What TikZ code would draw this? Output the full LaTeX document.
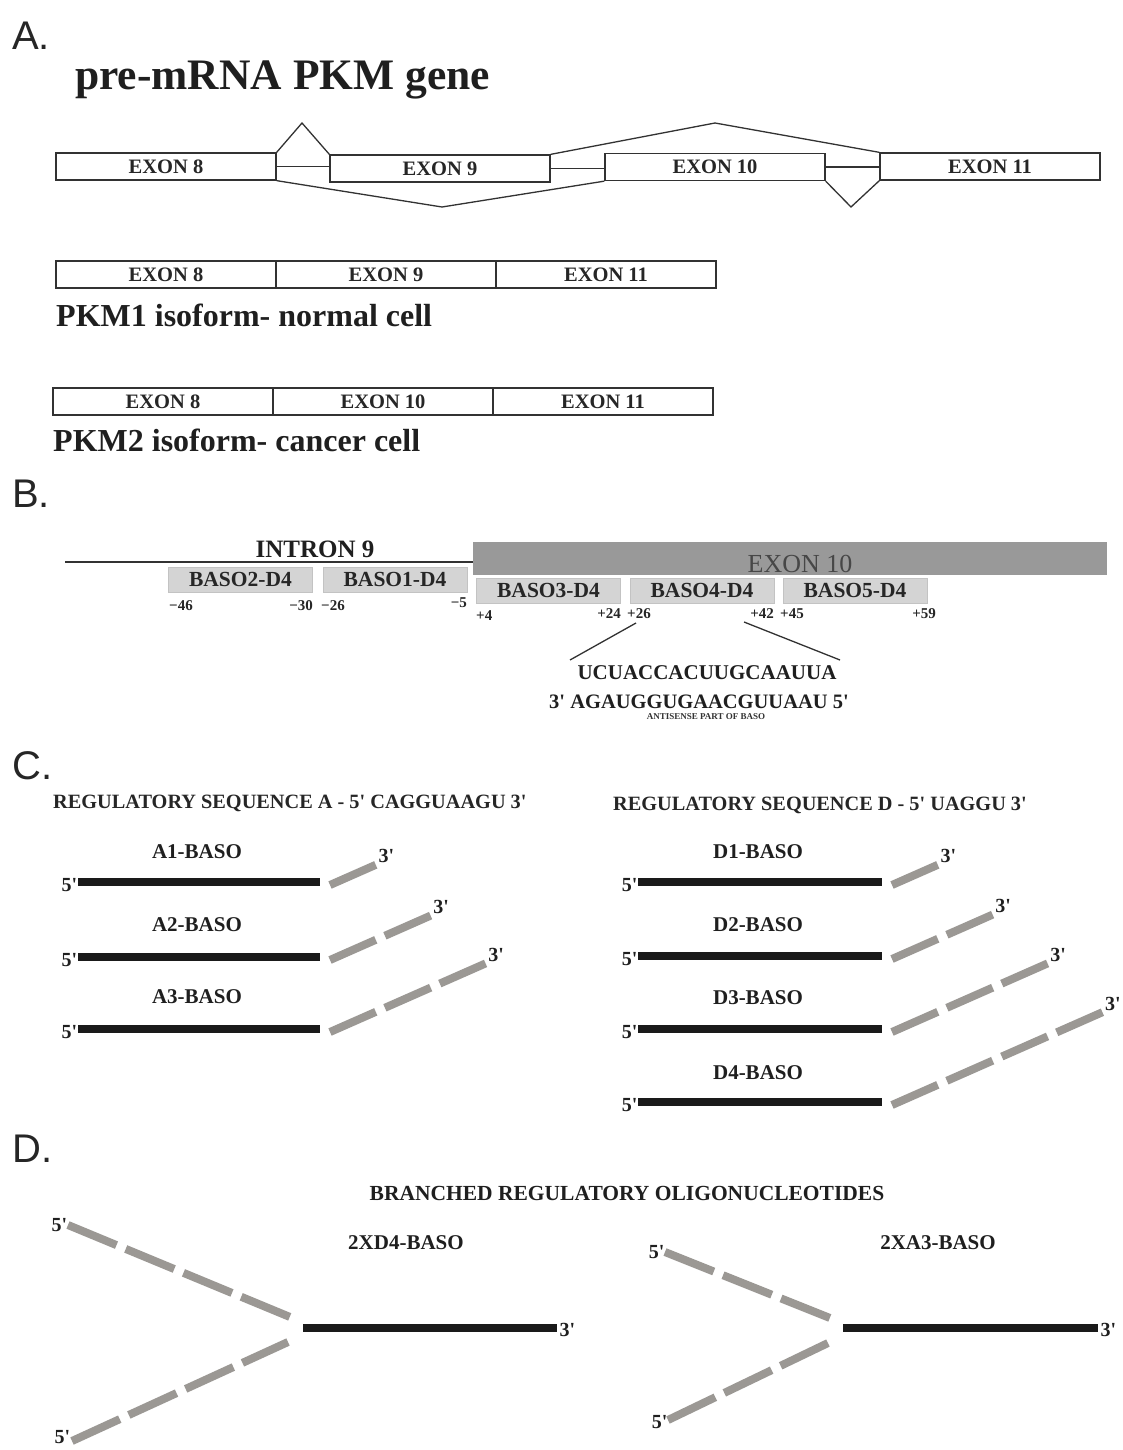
\documentclass[tikz,border=0pt]{standalone}
\usepackage{fontspec}
\setmainfont{Liberation Serif}
\newfontfamily\secfont{Liberation Sans}
\newcommand\myfs[1]{\fontsize{#1}{#1}\selectfont}
\newcommand\myq{\textquotesingle}
\definecolor{linec}{RGB}{50,50,50}
\definecolor{basof}{RGB}{212,212,212}
\definecolor{basod}{RGB}{195,195,195}
\definecolor{exfill}{RGB}{153,153,153}
\definecolor{barc}{RGB}{26,26,26}
\definecolor{dashc}{RGB}{155,152,148}
\tikzset{
 lbl/.style={font=\myfs{21}\bfseries, inner sep=0pt, text=black!88},
 exonbox/.style={draw=linec, line width=1.3pt, minimum width=220pt, minimum height=27pt, inner sep=0pt, font=\myfs{20.5}\bfseries, text=black!85},
 splice/.style={draw=linec, line width=1.3pt},
 basobox/.style={fill=basof, draw=basod, line width=0.6pt, minimum width=144pt, minimum height=25pt, inner sep=0pt, font=\myfs{21.5}\bfseries, text=black!85},
 num/.style={font=\myfs{15}\bfseries, inner sep=0pt, text=black!85},
 blackbar/.style={line width=8pt, draw=barc},
 graydash/.style={line width=8pt, draw=dashc, dash pattern=on 50pt off 10pt},
 graydashb/.style={line width=8pt, draw=dashc, dash pattern=on 52.5pt off 10pt},
 sec/.style={font=\secfont\myfs{40}, anchor=base west, inner sep=0pt, text=black!85},
 prime/.style={font=\myfs{20}\bfseries, inner sep=0.5pt, text=black!88},
}
\begin{document}
\begin{tikzpicture}[x=1pt,y=-1pt]
\fill[white] (0,0) rectangle (1123,1450);
\useasboundingbox (0,0) rectangle (1123,1450);

% ---------------- A ----------------
\node[sec] (la) at (12,50) {A.};
\node[font=\myfs{43.5}\bfseries, anchor=base west, inner sep=0pt, text=black!88] (title) at (75,90) {pre-mRNA PKM gene};

\node[exonbox] (e8) at (166,166.5) {EXON 8};
\node[exonbox] (e9) at (440,168.5) {EXON 9};
\node[exonbox] (e10) at (715,167) {EXON 10};
\node[exonbox] (e11) at (990,166.5) {EXON 11};
\coordinate (s1) at (302,123);
\coordinate (s2) at (442,207);
\coordinate (s3) at (715,123);
\coordinate (s4) at (851,207);
\draw[splice] (e8.east) -- (e8.east -| e9.west);
\draw[splice] (e9.east) -- (e9.east -| e10.west);
\draw[splice] (e10.east) -- (e10.east -| e11.west);
\draw[splice] (e8.north east) -- (s1) -- (e9.north west);
\draw[splice] (e8.south east) -- (s2) -- (e10.south west);
\draw[splice] (e9.north east) -- (s3) -- (e11.north west);
\draw[splice] (e10.south east) -- (s4) -- (e11.south west);

\node[exonbox] (p1a) at (166,274.5) {EXON 8};
\node[exonbox] (p1b) at (386,274.5) {EXON 9};
\node[exonbox] (p1c) at (606,274.5) {EXON 11};
\node[font=\myfs{32}\bfseries, anchor=base west, inner sep=0pt, text=black!88] (pkm1) at (56,326) {PKM1 isoform- normal cell};

\node[exonbox] (p2a) at (163,401.5) {EXON 8};
\node[exonbox] (p2b) at (383,401.5) {EXON 10};
\node[exonbox] (p2c) at (603,401.5) {EXON 11};
\node[font=\myfs{32}\bfseries, anchor=base west, inner sep=0pt, text=black!88] (pkm2) at (53,451) {PKM2 isoform- cancer cell};

% ---------------- B ----------------
\node[sec] (lb) at (12,507) {B.};
\node[fill=exfill, minimum width=634pt, minimum height=33pt, inner sep=0pt, anchor=north west] (ex10) at (473,542) {};
\node[font=\myfs{26}, text=black!72, anchor=base, inner sep=0pt] (ex10t) at (800,572) {EXON 10};
\coordinate (intronstart) at (65,562);
\draw[line width=1.3pt, draw=linec] (intronstart) -- (ex10.west |- intronstart);
\node[font=\myfs{25}\bfseries, anchor=base, inner sep=0pt, text=black!88] (intr) at (315,557) {INTRON 9};

\node[basobox] (b2) at (240.5,579.5) {BASO2-D4};
\node[basobox] (b1) at (395,579.5) {BASO1-D4};
\node[basobox] (b3) at (548.5,590.5) {BASO3-D4};
\node[basobox] (b4) at (702,590.5) {BASO4-D4};
\node[basobox] (b5) at (855,590.5) {BASO5-D4};

\node[num, anchor=west] (n1) at (169,606) {−46};
\node[num, anchor=east] (n2) at (313,606) {−30};
\node[num, anchor=west] (n3) at (321,606) {−26};
\node[num, anchor=east] (n4) at (467,603) {−5};
\node[num, anchor=west] (n5) at (476,616) {+4};
\node[num, anchor=east] (n6) at (621,614) {+24};
\node[num, anchor=west] (n7) at (627,614) {+26};
\node[num, anchor=east] (n8) at (774,614) {+42};
\node[num, anchor=west] (n9) at (780,614) {+45};
\node[num, anchor=east] (n10) at (936,614) {+59};

\node[font=\myfs{21}\bfseries, inner sep=0pt, text=black!88] (seq1) at (707,673) {UCUACCACUUGCAAUUA};
\node[font=\myfs{20.5}\bfseries, inner sep=0pt, text=black!88] (seq2) at (699,702) {3\myq{} AGAUGGUGAACGUUAAU 5\myq};
\node[font=\myfs{9}\bfseries, inner sep=0pt, text=black!80] (anti) at (706,717) {ANTISENSE PART OF BASO};
\coordinate (c1a) at (636,623);
\coordinate (c1b) at (570,660);
\coordinate (c2a) at (744,622);
\coordinate (c2b) at (840,660);
\draw[line width=1.3pt, draw=linec] (c1a) -- (c1b);
\draw[line width=1.3pt, draw=linec] (c2a) -- (c2b);

% ---------------- C ----------------
\node[sec] (lc) at (12,779) {C.};
\node[font=\myfs{20.3}\bfseries, anchor=west, inner sep=0pt, text=black!85] (hA) at (53,803) {REGULATORY SEQUENCE A - 5\myq{} CAGGUAAGU 3\myq};
\node[font=\myfs{20.3}\bfseries, anchor=west, inner sep=0pt, text=black!85] (hD) at (613,805) {REGULATORY SEQUENCE D - 5\myq{} UAGGU 3\myq};

% A series
\foreach \nm/\y/\ly/\dx/\dy in {A1/882/852/45.8/20.2, A2/957/925/100.6/44.4, A3/1029/997/155.6/68.6}{
  \coordinate (\nm s) at (78,\y);
  \coordinate (\nm e) at (320,\y);
  \coordinate (\nm d) at (330,\y+3);
  \coordinate (\nm f) at (330+\dx,\y+3-\dy);
  \draw[blackbar] (\nm s) -- (\nm e);
  \draw[graydash] (\nm d) -- (\nm f);
  \node[lbl] (\nm l) at (197,\ly) {\nm-BASO};
  \node[prime, anchor=east] (\nm p5) at ([yshift=-3pt]\nm s) {5\myq};
  \node[prime, anchor=south west] (\nm p3) at ([xshift=2pt,yshift=1pt]\nm f) {3\myq};
}
% D series
\foreach \nm/\y/\ly/\dx/\dy in {D1/882/852/45.8/20.2, D2/956/925/100.6/44.4, D3/1029/998/155.6/68.6, D4/1102/1073/210.4/92.8}{
  \coordinate (\nm s) at (638,\y);
  \coordinate (\nm e) at (882,\y);
  \coordinate (\nm d) at (892,\y+3);
  \coordinate (\nm f) at (892+\dx,\y+3-\dy);
  \draw[blackbar] (\nm s) -- (\nm e);
  \draw[graydash] (\nm d) -- (\nm f);
  \node[lbl] (\nm l) at (758,\ly) {\nm-BASO};
  \node[prime, anchor=east] (\nm p5) at ([yshift=-3pt]\nm s) {5\myq};
  \node[prime, anchor=south west] (\nm p3) at ([xshift=2pt,yshift=1pt]\nm f) {3\myq};
}

% ---------------- D ----------------
\node[sec] (ld) at (12,1162) {D.};
\node[lbl, font=\myfs{21.5}\bfseries] (hB) at (627,1193) {BRANCHED REGULATORY OLIGONUCLEOTIDES};

% left branched
\coordinate (L0) at (303,1328);
\coordinate (L1) at (557,1328);
\coordinate (Lu1) at (68,1225);
\coordinate (Lu2) at (290,1317);
\coordinate (Ld1) at (72,1441);
\coordinate (Ld2) at (288,1342);
\draw[blackbar] (L0) -- (L1);
\draw[graydashb] (Lu1) -- (Lu2);
\draw[graydashb] (Ld1) -- (Ld2);
\node[lbl] (Llab) at (406,1243) {2XD4-BASO};
\node[prime, anchor=west] (L3) at ([xshift=2pt,yshift=-2pt]L1) {3\myq};
\node[prime, anchor=east] (L5u) at (Lu1) {5\myq};
\node[prime, anchor=east] (L5d) at ([xshift=-1pt,yshift=4pt]Ld1) {5\myq};

% right branched
\coordinate (R0) at (843,1328);
\coordinate (R1) at (1098,1328);
\coordinate (Ru1) at (665,1252);
\coordinate (Ru2) at (830,1318);
\coordinate (Rd1) at (668,1420);
\coordinate (Rd2) at (828,1343);
\draw[blackbar] (R0) -- (R1);
\draw[graydashb] (Ru1) -- (Ru2);
\draw[graydashb] (Rd1) -- (Rd2);
\node[lbl] (Rlab) at (938,1243) {2XA3-BASO};
\node[prime, anchor=west] (R3) at ([xshift=2pt,yshift=-2pt]R1) {3\myq};
\node[prime, anchor=east] (R5u) at (Ru1) {5\myq};
\node[prime, anchor=east] (R5d) at ([yshift=-2pt]Rd1) {5\myq};
\end{tikzpicture}
\end{document}
